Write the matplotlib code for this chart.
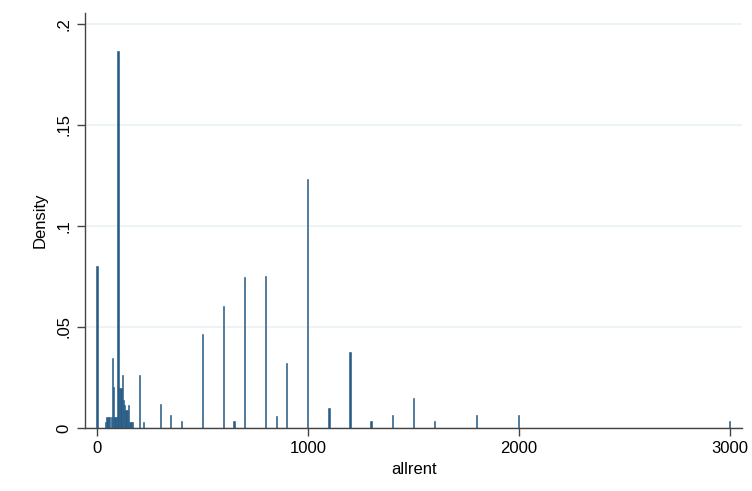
import matplotlib
matplotlib.use("Agg")
import matplotlib.pyplot as plt

plt.rcParams['font.family'] = ['Liberation Sans', 'DejaVu Sans']

# bin centres (allrent) and density heights
rent = [0, 40, 47, 54, 61, 68, 73, 79, 86, 92, 100, 107, 114, 120, 126,
        132, 138, 144, 150, 157, 164, 170,
        200, 220, 300, 350, 400, 500, 600, 650, 700, 800, 850, 900,
        1000, 1100, 1200, 1300, 1400, 1500, 1600, 1800, 2000, 3000]
density = [0.0802, 0.0031, 0.0053, 0.0053, 0.0053, 0.0053, 0.0345, 0.0204,
           0.0053, 0.0053, 0.1868, 0.020, 0.020, 0.026, 0.0139,
           0.0114, 0.009, 0.009, 0.0114, 0.0031, 0.0031, 0.0031,
           0.026, 0.0031, 0.0118, 0.0064, 0.0033, 0.0464, 0.0605, 0.0033,
           0.0749, 0.0753, 0.0061, 0.032,
           0.1233, 0.0097, 0.0375, 0.0033, 0.0064, 0.0147, 0.0033, 0.0062,
           0.0066, 0.0036]

xticks = [0, 1000, 2000, 3000]
yticks = [0, 0.05, 0.1, 0.15, 0.2]
yticklabels = ['0', '.05', '.1', '.15', '.2']

bar_color = '#265b85'

fig = plt.figure(figsize=(7.52, 4.91), dpi=100)
ax = fig.add_axes([0.113, 0.1283, 0.874, 0.8452])

ax.bar(rent, density, width=6, color=bar_color, edgecolor=bar_color,
       linewidth=0.4, zorder=3)

ax.set_xlim(-57, 3060)
ax.set_ylim(0, 0.2054)

ax.set_yticks(yticks)
ax.set_yticklabels(yticklabels, rotation=90, va='center')
ax.set_xticks(xticks)
ax.yaxis.grid(True, color='#eaf2f3', linewidth=1.2, zorder=0)
ax.set_axisbelow(True)

for s in ['top', 'right']:
    ax.spines[s].set_visible(False)
for s in ['left', 'bottom']:
    ax.spines[s].set_color('#444444')
    ax.spines[s].set_linewidth(1.0)

ax.tick_params(axis='both', labelsize=12, length=6, width=1.0,
               color='#444444', labelcolor='black')
ax.tick_params(axis='y', pad=4)

ax.set_xlabel('allrent', fontsize=12, labelpad=4)
ax.set_ylabel('Density', fontsize=12, labelpad=6)

fig.savefig('out.png', dpi=100)
